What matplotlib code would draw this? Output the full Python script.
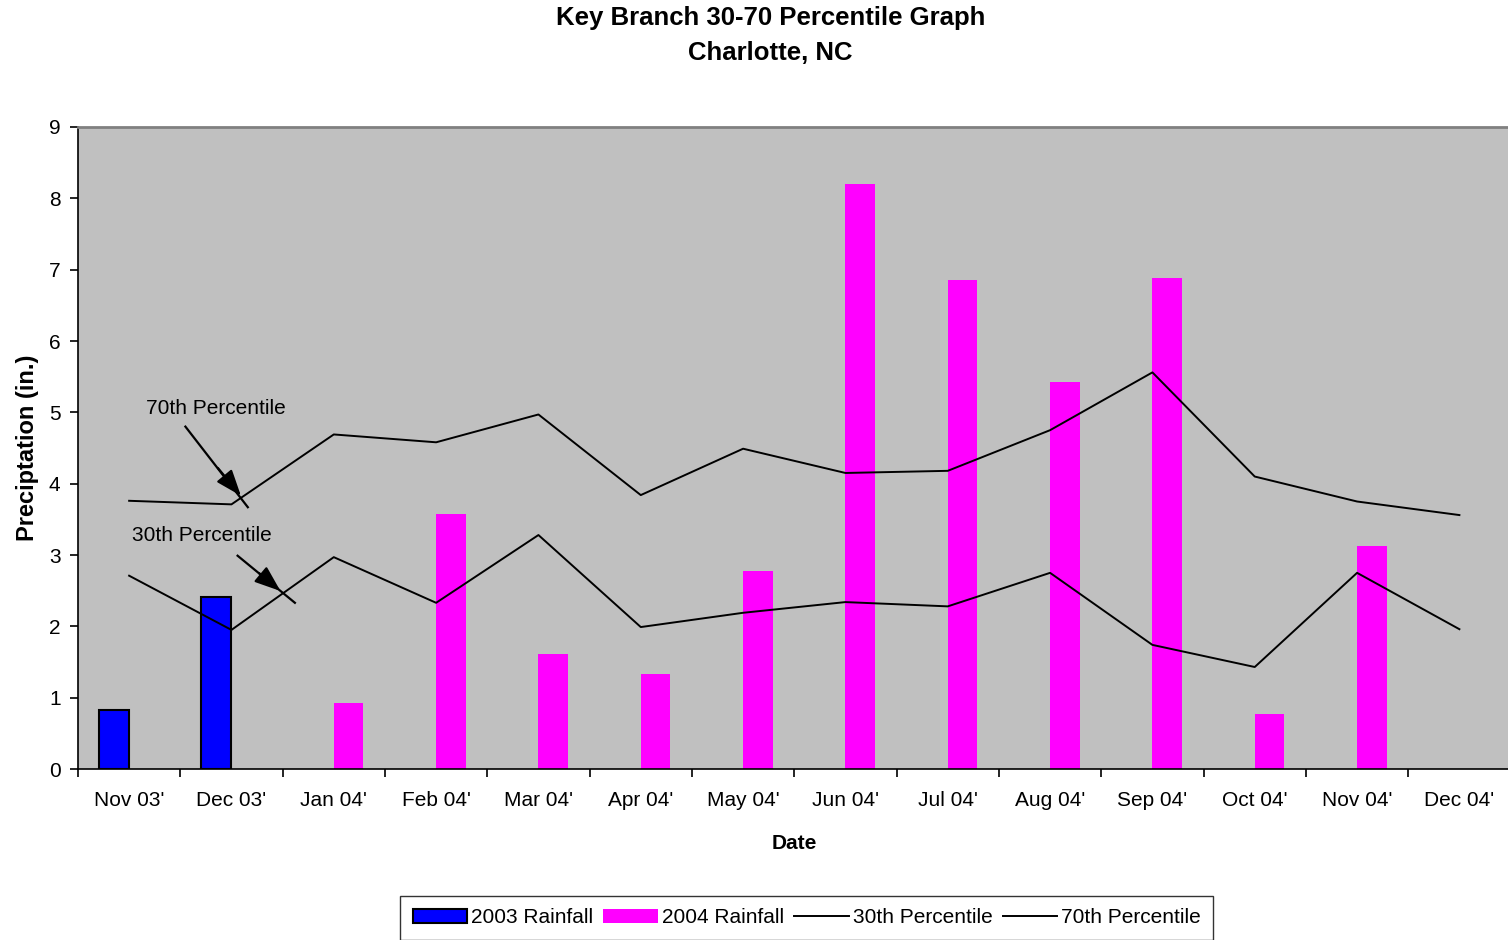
import matplotlib.pyplot as plt
import numpy as np

plt.rcParams['font.family'] = ['Liberation Sans', 'DejaVu Sans']

months = ["Nov 03'", "Dec 03'", "Jan 04'", "Feb 04'", "Mar 04'", "Apr 04'", "May 04'",
          "Jun 04'", "Jul 04'", "Aug 04'", "Sep 04'", "Oct 04'", "Nov 04'", "Dec 04'"]
rain_2003 = [0.83, 2.41, 0, 0, 0, 0, 0, 0, 0, 0, 0, 0, 0, 0]
rain_2004 = [0, 0, 0.93, 3.57, 1.61, 1.33, 2.78, 8.2, 6.85, 5.42, 6.88, 0.77, 3.12, 0]
pct30 = [2.71, 1.95, 2.97, 2.33, 3.28, 1.99, 2.19, 2.34, 2.28, 2.75, 1.74, 1.43, 2.75, 1.96]
pct70 = [3.76, 3.71, 4.69, 4.58, 4.97, 3.84, 4.49, 4.15, 4.18, 4.75, 5.56, 4.10, 3.75, 3.56]

x = np.arange(len(months))
w = 0.29

fig = plt.figure(figsize=(15.08, 9.4), dpi=100)
ax = fig.add_axes([0.0517, 0.1819, 0.95, 0.6830])
ax.set_facecolor('#C0C0C0')

# blue bars only where there is 2003 data, magenta for 2004
ax.bar(x[:2] - w/2 - 0.005, rain_2003[:2], w, color='#0000FF', edgecolor='black',
       linewidth=1.5, label='2003 Rainfall')
ax.bar(x[2:] + w/2, rain_2004[2:], w, color='#FF00FF', label='2004 Rainfall')
ax.plot(x, pct30, color='black', lw=1.4, label='30th Percentile')
ax.plot(x, pct70, color='black', lw=1.4, label='70th Percentile')

# arrows pointing at the two lines
arr = dict(arrowstyle='-|>,head_width=0.6,head_length=1.6', color='black', lw=1.6)
ax.text(0.85, 5.06, '70th Percentile', fontsize=15, ha='center', va='center')
ax.plot([0.55, 1.16], [4.80, 3.67], color='black', lw=1.6)
ax.annotate('', xy=(1.11, 3.80), xytext=(0.85, 4.25), arrowprops=arr)
ax.text(0.71, 3.27, '30th Percentile', fontsize=15, ha='center', va='center')
ax.plot([1.06, 1.62], [2.99, 2.33], color='black', lw=1.6)
ax.annotate('', xy=(1.50, 2.47), xytext=(1.25, 2.77), arrowprops=arr)

ax.set_xlim(-0.5, 13.5)
ax.set_ylim(0, 9)
ax.set_yticks(range(10))
ax.set_xticks(x)
ax.set_xticklabels(months)
ax.set_xticks(np.arange(-0.5, 14, 1), minor=True)
ax.tick_params(axis='x', which='major', length=0, pad=16, labelsize=15)
ax.tick_params(axis='x', which='minor', length=6, direction='out', width=1.2)
ax.tick_params(axis='y', length=6, direction='out', labelsize=15, width=1.2, pad=6.5)

ax.spines['top'].set_color('#808080')
ax.spines['top'].set_linewidth(2)
ax.spines['right'].set_visible(False)
ax.spines['left'].set_linewidth(1.2)
ax.spines['bottom'].set_linewidth(1.2)

ax.set_xlabel('Date', fontsize=15, fontweight='bold', labelpad=17)
ax.set_ylabel('Preciptation (in.)', fontsize=17, fontweight='bold', labelpad=7)

fig.text(0.511, 0.962, 'Key Branch 30-70 Percentile Graph\nCharlotte, NC', ha='center', va='center',
         fontsize=18.5, fontweight='bold', linespacing=1.6)

handles, labels = ax.get_legend_handles_labels()
order = [2, 3, 0, 1]
leg = fig.legend([handles[i] for i in order], [labels[i] for i in order],
                 loc='lower center', bbox_to_anchor=(0.535, -0.011), ncol=4, fontsize=15,
                 frameon=True, fancybox=False, edgecolor='black', handlelength=2.6,
                 handletextpad=0.2, columnspacing=0.5, borderpad=0.6)
leg.get_frame().set_linewidth(1.0)

fig.savefig('out.png', dpi=100)
